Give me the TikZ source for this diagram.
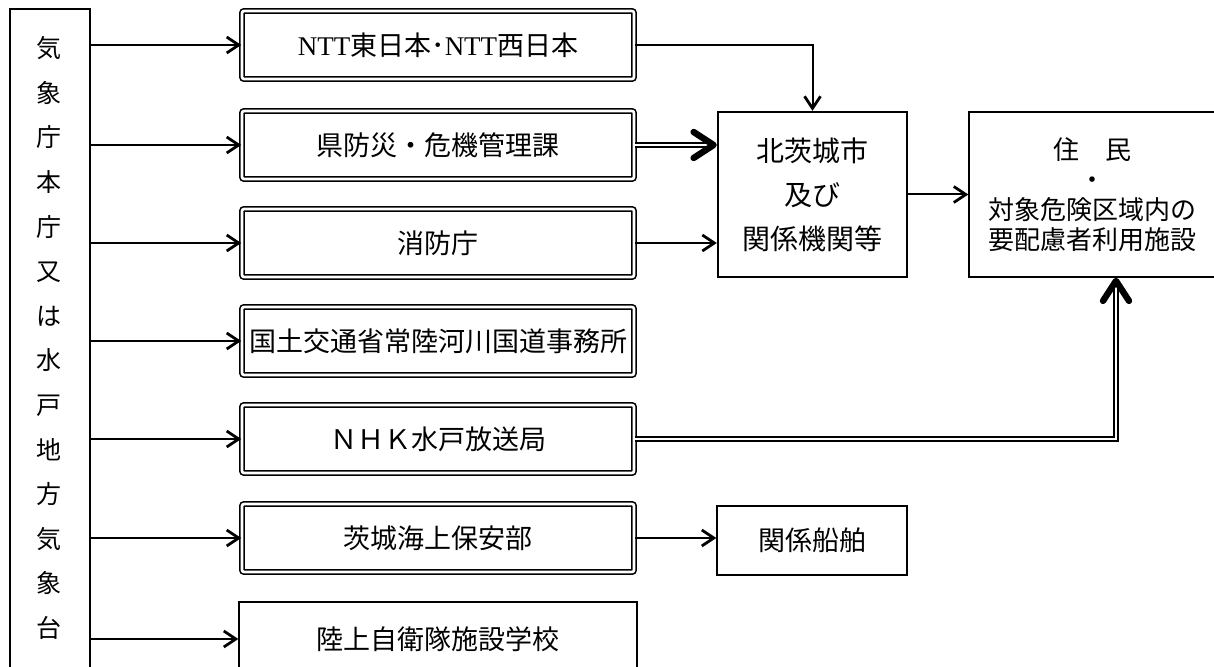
\documentclass[tikz,border=0pt]{standalone}
\usepackage{fontspec}
\setmainfont{Noto Sans CJK JP}
\newfontfamily\lat{Liberation Serif}
\usetikzlibrary{arrows.meta}

\tikzset{
  dbox/.style={draw, double, double distance=1.3pt, line width=0.8pt, rounded corners=1pt,
    minimum width=196pt, minimum height=34pt, font=\fontsize{13.5}{16}\selectfont},
  sbox/.style={draw, line width=0.7pt, font=\fontsize{13.5}{16}\selectfont},
  arr/.style={line width=1.3pt, -{Straight Barb[length=6pt,width=8pt,line width=1.4pt]}},
  heavy/.style={double, double distance=1.3pt, line width=0.8pt,
    -{Straight Barb[length=10pt,width=13pt,line width=3.2pt,round]}}
}

\begin{document}
\begin{tikzpicture}[x=0.5pt, y=-0.5pt]
    \useasboundingbox (0,0) rectangle (1214,667);
    % sender on the left
    \node[draw, line width=1.2pt, anchor=north west, minimum width=40pt, minimum height=350pt] (jma) at (9,8) {};
    \node[align=center, font=\fontsize{12.5}{22.3}\selectfont] (jmatext) at (49,338)
        {気\\象\\庁\\本\\庁\\又\\は\\水\\戸\\地\\方\\気\\象\\台};
    % receiving offices
    \foreach \n/\y/\t in {ntt/45/{{\lat NTT}東日本･{\lat NTT}西日本}, kenbo/145/県防災・危機管理課,
        shobo/243/消防庁, kokudo/341/国土交通省常陸河川国道事務所,
        nhk/439/ＮＨＫ水戸放送局, kaiho/538/茨城海上保安部}
        \node[dbox] (\n) at (438,\y) {\t};
    \node[sbox, minimum width=199pt, minimum height=37pt] (rikujo) at (438,639) {陸上自衛隊施設学校};
    \node[sbox, minimum width=95pt, minimum height=34.5pt] (fune) at (812,540.5) {関係船舶};
    \node[draw, line width=1.2pt, minimum width=94.5pt, minimum height=82.5pt, align=center,
        font=\fontsize{14}{22}\selectfont] (hoku) at (812.5,194.5) {北茨城市\\及び\\関係機関等};
    \node[draw, line width=0.7pt, minimum width=123.5pt, minimum height=82.5pt, align=center,
        font=\fontsize{13}{15}\selectfont] (jumin) at (1092.5,194.5)
        {住　民\\・\\対象危険区域内の\\要配慮者利用施設};
    % connectors
    \foreach \b in {ntt,kenbo,shobo,kokudo,nhk,kaiho,rikujo}
        \draw[arr] (\b.west -| jma.east) -- (\b.west);
    \draw[arr, line width=1pt] (ntt.east) -| (hoku.north);
    \draw[heavy] (kenbo.east) -- (kenbo.east -| hoku.west);
    \draw[arr, line width=1pt] (shobo.east) -- (shobo.east -| hoku.west);
    \draw[arr, line width=1pt] (hoku.east) -- (jumin.west);
    \draw[heavy] (nhk.east) -| ([xshift=11.75pt]jumin.south);
    \draw[arr, line width=1pt] (kaiho.east) -- (kaiho.east -| fune.west);
\end{tikzpicture}
\end{document}
